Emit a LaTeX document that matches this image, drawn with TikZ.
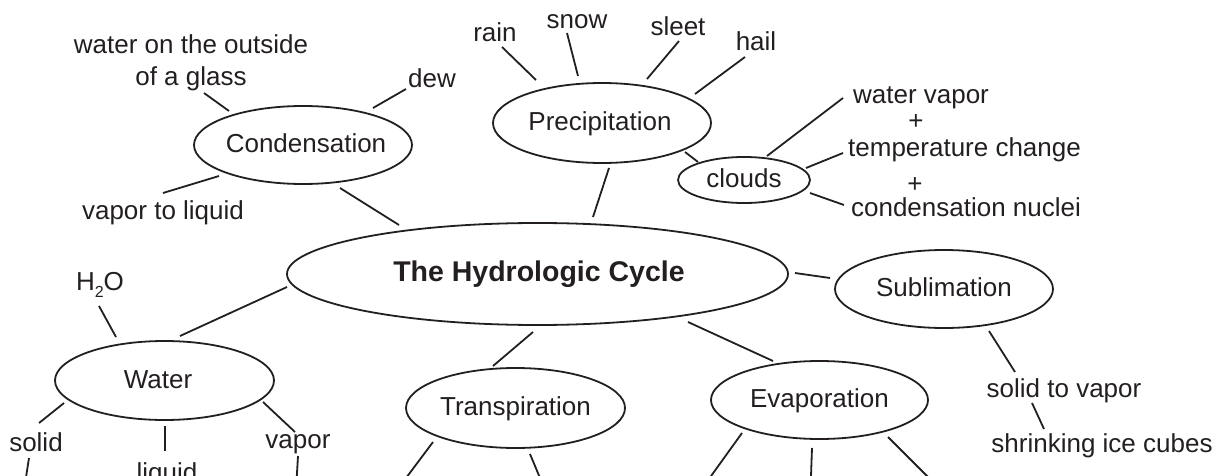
\documentclass[tikz,border=0pt]{standalone}
\usepackage{fontspec}
\setmainfont{Liberation Sans}
\usetikzlibrary{shapes.geometric}
\definecolor{ink}{HTML}{231F20}
\newcommand\ctrtext[2][0pt]{\makebox[0pt]{\hspace*{#1}#2}}
\begin{document}
\begin{tikzpicture}[x=1pt,y=-1pt,
  every node/.style={font=\fontsize{26}{32}\selectfont, text=ink},
  ell/.style={ellipse, draw=ink, line width=1.8pt, inner sep=0pt, text height=19pt, text depth=4pt},
  lbl/.style={inner sep=0pt, anchor=base},
  con/.style={draw=ink, line width=1.8pt}]
\useasboundingbox (0,0) rectangle (1215,476);
\clip (0,0) rectangle (1215,476);

% ellipses
\node[ell, minimum width=218pt, minimum height=78pt] (cond) at (303,145) {\ctrtext[6pt]{Condensation}};
\node[ell, minimum width=218pt, minimum height=80pt] (prec) at (602,123) {\ctrtext[-4pt]{Precipitation}};
\node[ell, minimum width=132pt, minimum height=46pt] (clouds) at (744,180) {\ctrtext{clouds}};
\node[ell, minimum width=501pt, minimum height=102pt] (hydro) at (537.5,274) {\ctrtext[3pt]{\fontsize{28.5}{32}\selectfont\bfseries The Hydrologic Cycle}};
\node[ell, minimum width=218pt, minimum height=78pt] (subl) at (944,289) {\ctrtext{Sublimation}};
\node[ell, minimum width=219pt, minimum height=79pt] (water) at (164.5,380.5) {\ctrtext[-13pt]{Water}};
\node[ell, minimum width=219pt, minimum height=80pt] (trans) at (515.5,408) {\ctrtext{Transpiration}};
\node[ell, minimum width=217pt, minimum height=78pt] (evap) at (819.5,400) {\ctrtext{Evaporation}};

% labels
\node[lbl, align=center] (glass) at (191,86) {water on the outside\\of a glass};
\node[lbl] (dew) at (432,88) {dew};
\node[lbl] (vtl) at (163,219) {vapor to liquid};
\node[lbl] (rain) at (495,42) {rain};
\node[lbl] (snow) at (577,29) {snow};
\node[lbl] (sleet) at (678,36) {sleet};
\node[lbl] (hail) at (756,51) {hail};
\node[lbl] (wv) at (921,104) {water vapor};
\node[lbl] (plus1) at (916,130) {+};
\node[lbl] (tc) at (964.5,157) {temperature change};
\node[lbl] (plus2) at (915,192) {+};
\node[lbl] (cn) at (966,216) {condensation nuclei};
\node[lbl] (stv) at (1064,397) {solid to vapor};
\node[lbl] (sic) at (1102,452) {shrinking ice cubes};
\node[lbl] (h2o) at (100,290) {H\raisebox{-7pt}{\fontsize{16}{16}\selectfont 2}O};
\node[lbl] (solid) at (36,451) {solid};
\node[lbl] (liquid) at (167,481) {liquid};
\node[lbl] (vapor) at (298,448) {vapor};

% free ends below the cut
\coordinate (solidend) at (24,490);
\coordinate (vaporend) at (296,490);
\coordinate (transL) at (397,490);
\coordinate (transR) at (545,490);
\coordinate (evapL) at (701,490);
\coordinate (evapM) at (810.5,490);
\coordinate (evapR) at (941,490);

% connectors
\draw[con] ([shift={(13,7)}]glass.base) -- ([shift={(-74,-34)}]cond.center);
\draw[con] ([shift={(-26,1)}]dew.base) -- ([shift={(70,-37)}]cond.center);
\draw[con] ([shift={(0,-26)}]vtl.base) -- ([shift={(-84,31)}]cond.center);
\draw[con] ([shift={(37,43)}]cond.center) -- ([shift={(-138.5,-49)}]hydro.center);
\draw[con] ([shift={(7,5)}]rain.base) -- ([shift={(-66,-43)}]prec.center);
\draw[con] ([shift={(-10,4)}]snow.base) -- ([shift={(-24,-47)}]prec.center);
\draw[con] ([shift={(1,5)}]sleet.base) -- ([shift={(45,-44)}]prec.center);
\draw[con] ([shift={(-11,6)}]hail.base) -- ([shift={(93,-29)}]prec.center);
\draw[con] ([shift={(83,29)}]prec.center) -- ([shift={(-46,-18)}]clouds.center);
\draw[con] ([shift={(7,45)}]prec.center) -- ([shift={(55.5,-57)}]hydro.center);
\draw[con] ([shift={(23,-24)}]clouds.center) -- ([shift={(-78,-6)}]wv.base);
\draw[con] ([shift={(62,-12)}]clouds.center) -- ([shift={(-121.5,-4)}]tc.base);
\draw[con] ([shift={(66,13)}]clouds.center) -- ([shift={(-122,-11)}]cn.base);
\draw[con] ([shift={(257.5,-1)}]hydro.center) -- ([shift={(-114,-11)}]subl.center);
\draw[con] ([shift={(45,42)}]subl.center) -- ([shift={(-49,-25)}]stv.base);
\draw[con] ([shift={(-32,6)}]stv.base) -- ([shift={(-58,-23)}]sic.base);
\draw[con] ([shift={(-1,16)}]h2o.base) -- ([shift={(-48.5,-43.5)}]water.center);
\draw[con] ([shift={(-250.5,13)}]hydro.center) -- ([shift={(15.5,-44.5)}]water.center);
\draw[con] ([shift={(-100.5,22.5)}]water.center) -- ([shift={(3,-28)}]solid.base);
\draw[con] ([shift={(0.5,45.5)}]water.center) -- ([shift={(-2,-30)}]liquid.base);
\draw[con] ([shift={(98.5,21.5)}]water.center) -- ([shift={(-3,-16)}]vapor.base);
\draw[con] ([shift={(-7,7)}]solid.base) -- (solidend);
\draw[con] ([shift={(0,8)}]vapor.base) -- (vaporend);
\draw[con] ([shift={(-82.5,34)}]trans.center) -- (transL);
\draw[con] ([shift={(14.5,46)}]trans.center) -- (transR);
\draw[con] ([shift={(-4.5,58)}]hydro.center) -- ([shift={(-22.5,-42)}]trans.center);
\draw[con] ([shift={(150.5,48)}]hydro.center) -- ([shift={(-46.5,-39)}]evap.center);
\draw[con] ([shift={(-77.5,33)}]evap.center) -- (evapL);
\draw[con] ([shift={(-7.5,48)}]evap.center) -- (evapM);
\draw[con] ([shift={(68.5,37)}]evap.center) -- (evapR);
\end{tikzpicture}
\end{document}
